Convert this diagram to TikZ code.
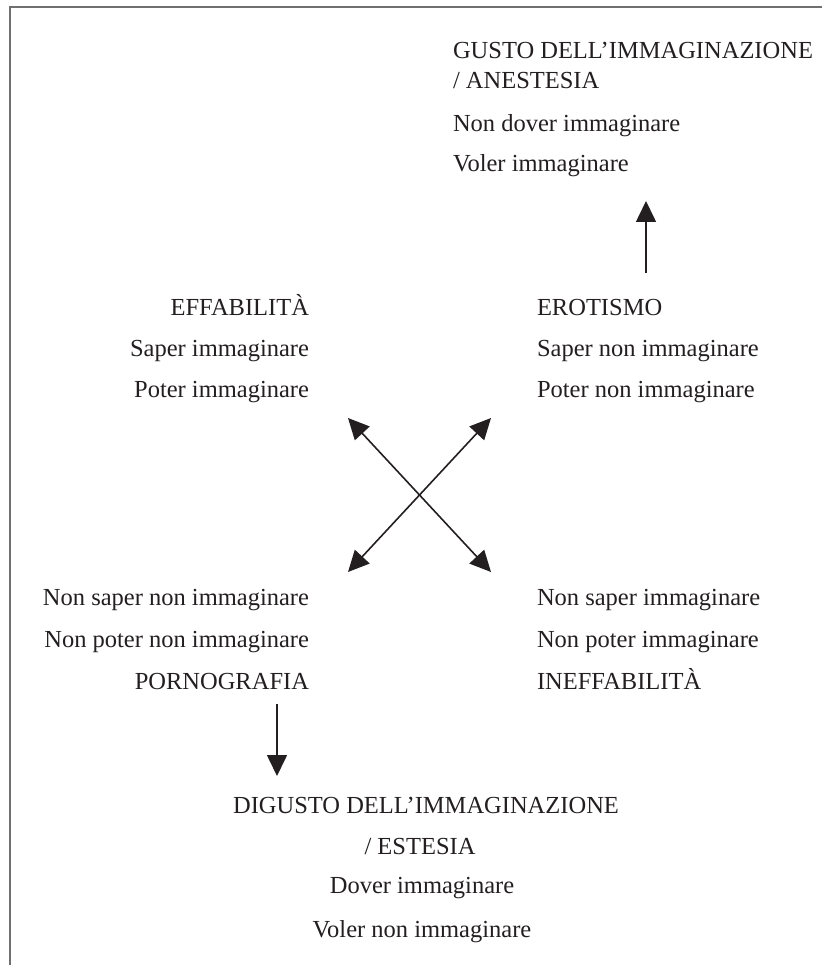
\documentclass[tikz,border=0pt]{standalone}
\usepackage{fontspec}
\setmainfont{Liberation Serif}
\usetikzlibrary{arrows.meta}
\definecolor{ink}{HTML}{231F20}
\definecolor{framec}{HTML}{707070}
\tikzset{
  lbl/.style={inner sep=0pt, outer sep=0pt, text=ink, font=\fontsize{24.5}{29}\selectfont},
  arr/.style={draw=ink, line width=1.6pt, -{Triangle[width=20pt,length=21pt]}},
  darr/.style={draw=ink, line width=1.6pt, {Triangle[width=20pt,length=21pt]}-{Triangle[width=20pt,length=21pt]}},
  framel/.style={draw=framec, line width=1.6pt}
}
\begin{document}
\begin{tikzpicture}[x=1pt,y=-1pt]
\useasboundingbox (0,0) rectangle (822,965);
% frame
\coordinate (fa) at (10,965);
\coordinate (fb) at (10,7);
\coordinate (fc) at (822,7);
\draw[framel] (fa) -- (fb) -- (fc);

% top block
\node[lbl, anchor=base west] (g1) at (453,59) {GUSTO DELL’IMMAGINAZIONE};
\node[lbl, anchor=base west] (g2) at (453,89) {/ ANESTESIA};
\node[lbl, anchor=base west] (g3) at (453,132) {Non dover immaginare};
\node[lbl, anchor=base west] (g4) at (453,172) {Voler immaginare};

% middle left
\node[lbl, anchor=base east] (e1) at (309,315) {EFFABILITÀ};
\node[lbl, anchor=base east] (e2) at (309,356) {Saper immaginare};
\node[lbl, anchor=base east] (e3) at (309,397) {Poter immaginare};

% middle right
\node[lbl, anchor=base west] (r1) at (537,315) {EROTISMO};
\node[lbl, anchor=base west] (r2) at (537,356) {Saper non immaginare};
\node[lbl, anchor=base west] (r3) at (537,397) {Poter non immaginare};

% lower left
\node[lbl, anchor=base east] (p1) at (309,605) {Non saper non immaginare};
\node[lbl, anchor=base east] (p2) at (309,647) {Non poter non immaginare};
\node[lbl, anchor=base east] (p3) at (309,689) {PORNOGRAFIA};

% lower right
\node[lbl, anchor=base west] (i1) at (537,605) {Non saper immaginare};
\node[lbl, anchor=base west] (i2) at (537,647) {Non poter immaginare};
\node[lbl, anchor=base west] (i3) at (537,689) {INEFFABILITÀ};

% bottom block
\node[lbl, anchor=base] (d1) at (426,813) {DIGUSTO DELL’IMMAGINAZIONE};
\node[lbl, anchor=base] (d2) at (420,854) {/ ESTESIA};
\node[lbl, anchor=base] (d3) at (422,893) {Dover immaginare};
\node[lbl, anchor=base] (d4) at (422,937) {Voler non immaginare};

% arrow coordinates
\coordinate (ua) at (646,273);
\coordinate (ub) at (646,201);
\coordinate (da) at (277,704);
\coordinate (db) at (277,776);
\coordinate (xtl) at (348,418);
\coordinate (xtr) at (491,418);
\coordinate (xbl) at (348,572);
\coordinate (xbr) at (491,572);

\draw[arr] (ua) -- (ub);
\draw[arr] (da) -- (db);
\draw[darr] (xtl) -- (xbr);
\draw[darr] (xtr) -- (xbl);
\end{tikzpicture}
\end{document}
